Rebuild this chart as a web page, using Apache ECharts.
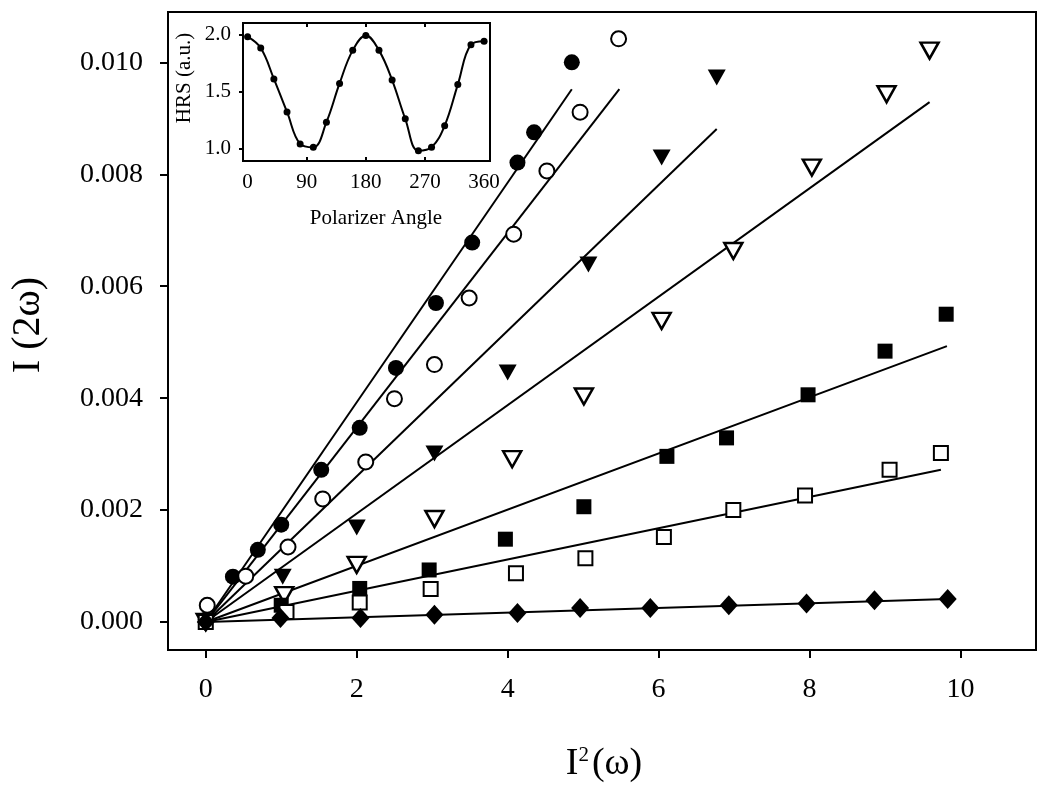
<!DOCTYPE html>
<html>
<head>
<meta charset="utf-8">
<script src="https://cdn.jsdelivr.net/npm/echarts@6/dist/echarts.min.js"></script>
<style>
html,body{margin:0;padding:0;background:#fff;}
#chart{width:1050px;height:792px;}
</style>
</head>
<body>
<div id="chart"></div>
<script>
// ---------- main plot data ----------
const filledCircleX = [0, 0.36, 0.69, 1.00, 1.53, 2.04, 2.52, 3.05, 3.53, 4.13, 4.35, 4.85];
const filledCircleY = [0.00004, 0.00081, 0.00129, 0.00174, 0.00272, 0.00347, 0.00454, 0.00570, 0.00678, 0.00821, 0.00875, 0.01000];

const openCircleX = [0.02, 0.53, 1.09, 1.55, 2.12, 2.50, 3.03, 3.49, 4.08, 4.52, 4.96, 5.47];
const openCircleY = [0.00030, 0.00082, 0.00134, 0.00220, 0.00286, 0.00399, 0.00460, 0.00579, 0.00693, 0.00806, 0.00911, 0.01042];

const filledTriX = [0, 1.02, 2.00, 3.03, 4.00, 5.07, 6.04, 6.77];
const filledTriY = [0, 0.00081, 0.00169, 0.00301, 0.00446, 0.00639, 0.00830, 0.00973];

const openTriX = [0, 1.04, 2.00, 3.03, 4.06, 5.01, 6.04, 6.99, 8.03, 9.02, 9.59];
const openTriY = [0, 0.00048, 0.00102, 0.00184, 0.00291, 0.00403, 0.00538, 0.00663, 0.00812, 0.00943, 0.01021];

const filledSqX = [0, 1.00, 2.04, 2.96, 3.97, 5.01, 6.11, 6.90, 7.98, 9.00, 9.81];
const filledSqY = [0, 0.00030, 0.00060, 0.00093, 0.00148, 0.00206, 0.00296, 0.00329, 0.00406, 0.00484, 0.00550];

const openSqX = [0, 1.07, 2.04, 2.98, 4.11, 5.03, 6.07, 6.99, 7.94, 9.06, 9.74];
const openSqY = [0, 0.00018, 0.00035, 0.00059, 0.00087, 0.00114, 0.00152, 0.00200, 0.00226, 0.00272, 0.00302];

const diamondX = [0, 0.99, 2.05, 3.03, 4.13, 4.96, 5.89, 6.93, 7.96, 8.86, 9.83];
const diamondY = [0, 0.00007, 0.00007, 0.00013, 0.00016, 0.00025, 0.00025, 0.00030, 0.00033, 0.00039, 0.00041];

// fitted straight lines: start (0,0) and end points
const fitEndX = [4.85, 5.48, 6.77, 9.59, 9.82, 9.74, 9.83];
const fitEndY = [0.00952, 0.00952, 0.00881, 0.00929, 0.00493, 0.00272, 0.00041];

// tick labels
const xTicks = [0, 2, 4, 6, 8, 10];
const yTicks = [0, 0.002, 0.004, 0.006, 0.008, 0.010];

// ---------- inset data ----------
const insetAngle = [0, 20, 40, 60, 80, 100, 120, 140, 160, 180, 200, 220, 240, 260, 280, 300, 320, 340, 360];
const insetHRS = [1.98, 1.88, 1.61, 1.32, 1.04, 1.01, 1.23, 1.57, 1.86, 1.99, 1.86, 1.60, 1.26, 0.98, 1.01, 1.20, 1.56, 1.91, 1.94];
const insetXTicks = [0, 90, 180, 270, 360];
const insetYTicks = [1.0, 1.5, 2.0];

const FONT = 'Liberation Serif';
const zip = (xs, ys) => xs.map((x, i) => [x, ys[i]]);

const chart = echarts.init(document.getElementById('chart'), null, {renderer: 'canvas'});

const fitSeries = fitEndX.map((x, i) => ({
  type: 'line', xAxisIndex: 0, yAxisIndex: 0,
  data: [[0, 0], [x, fitEndY[i]]],
  showSymbol: false, symbol: 'none', silent: true,
  lineStyle: {color: '#000', width: 2}, z: 2
}));

function scat(name, xs, ys, symbol, size, filled, rotate, bw) {
  return {
    name, type: 'scatter', xAxisIndex: 0, yAxisIndex: 0,
    data: zip(xs, ys), symbol, symbolSize: size, symbolRotate: rotate || 0,
    itemStyle: filled ? {color: '#000', opacity: 1}
                      : {color: '#fff', borderColor: '#000', borderWidth: bw || 2, opacity: 1},
    z: 5
  };
}

const option = {
  animation: false,
  backgroundColor: '#fff',
  grid: [
    {left: 168, top: 12, width: 868, height: 638, show: true, borderColor: '#000', borderWidth: 2, backgroundColor: '#fff'},
    {left: 243, top: 23, width: 247, height: 138, show: true, borderColor: '#000', borderWidth: 2, backgroundColor: '#fff', z: 10}
  ],
  xAxis: [
    {
      type: 'value', gridIndex: 0, min: -0.5, max: 11,
      axisLine: {show: true, onZero: false, lineStyle: {color: '#000', width: 2}},
      axisTick: {show: true, inside: false, length: 8, customValues: xTicks, lineStyle: {color: '#000', width: 2}},
      axisLabel: {customValues: xTicks, margin: 26, color: '#000', fontFamily: FONT, fontSize: 28},
      splitLine: {show: false}
    },
    {
      type: 'value', gridIndex: 1, min: -7, max: 369, z: 11,
      axisLine: {show: true, onZero: false, lineStyle: {color: '#000', width: 2}},
      axisTick: {show: true, inside: true, length: 4, customValues: [90, 180, 270], lineStyle: {color: '#000', width: 2}},
      axisLabel: {customValues: insetXTicks, margin: 11, color: '#000', fontFamily: FONT, fontSize: 21},
      splitLine: {show: false}
    },
    {
      type: 'value', gridIndex: 1, min: -7, max: 369, position: 'top', z: 11,
      axisLine: {show: false},
      axisTick: {show: true, inside: true, length: 4, customValues: [90, 180, 270], lineStyle: {color: '#000', width: 2}},
      axisLabel: {show: false},
      splitLine: {show: false}
    }
  ],
  yAxis: [
    {
      type: 'value', gridIndex: 0, min: -0.0005, max: 0.0109,
      axisLine: {show: true, onZero: false, lineStyle: {color: '#000', width: 2}},
      axisTick: {show: true, inside: false, length: 8, customValues: yTicks, lineStyle: {color: '#000', width: 2}},
      axisLabel: {customValues: yTicks, margin: 25, color: '#000', fontFamily: FONT, fontSize: 28,
                  formatter: v => v.toFixed(3)},
      splitLine: {show: false}
    },
    {
      type: 'value', gridIndex: 1, min: 0.89, max: 2.1, z: 11,
      axisLine: {show: true, onZero: false, lineStyle: {color: '#000', width: 2}},
      axisTick: {show: true, inside: false, length: 4, customValues: insetYTicks, lineStyle: {color: '#000', width: 2}},
      axisLabel: {customValues: insetYTicks, margin: 12, color: '#000', fontFamily: FONT, fontSize: 21,
                  formatter: v => v.toFixed(1)},
      splitLine: {show: false}
    }
  ],
  graphic: [
    {type: 'text', x: 28, y: 325, rotation: Math.PI / 2, z: 100,
     style: {text: 'I (2\u03C9)', font: '40px "Liberation Serif"', fill: '#000', textAlign: 'center', textVerticalAlign: 'middle'}},
    {type: 'text', x: 604, y: 764, z: 100,
     style: {text: '{a|I}{s|2}{a|(\u03C9)}', textAlign: 'center', textVerticalAlign: 'middle',
             rich: {a: {font: '38px "Liberation Serif"', fill: '#000', verticalAlign: 'bottom'},
                    s: {font: '21px "Liberation Serif"', fill: '#000', verticalAlign: 'top', padding: [0, 3, 15, 0]}}}},
    {type: 'text', x: 184, y: 78, rotation: Math.PI / 2, z: 100,
     style: {text: 'HRS (a.u.)', font: '21px "Liberation Serif"', fill: '#000', textAlign: 'center', textVerticalAlign: 'middle'}},
    {type: 'text', x: 376, y: 218, z: 100,
     style: {text: 'Polarizer Angle', font: '21px "Liberation Serif"', fill: '#000', textAlign: 'center', textVerticalAlign: 'middle'}}
  ],
  series: [
    ...fitSeries,
    scat('filled circle', filledCircleX, filledCircleY, 'circle', 16, true),
    scat('open circle', openCircleX, openCircleY, 'circle', 15, false),
    scat('filled triangle', filledTriX, filledTriY, 'triangle', [18, 16], true, 180),
    scat('open triangle', openTriX, openTriY, 'triangle', [18, 16], false, 180, 2.5),
    scat('filled square', filledSqX, filledSqY, 'rect', 15, true),
    scat('open square', openSqX, openSqY, 'rect', 14, false),
    {
      name: 'diamond', type: 'line', xAxisIndex: 0, yAxisIndex: 0,
      data: zip(diamondX, diamondY), symbol: 'diamond', symbolSize: [18, 20], showSymbol: true,
      lineStyle: {width: 0}, itemStyle: {color: '#000'}, z: 5
    },
    {
      name: 'inset', type: 'line', xAxisIndex: 1, yAxisIndex: 1,
      data: zip(insetAngle, insetHRS), smooth: 0.4, symbol: 'circle', symbolSize: 7, showSymbol: true,
      lineStyle: {color: '#000', width: 2}, itemStyle: {color: '#000'}, z: 12
    }
  ]
};
chart.setOption(option);
</script>
</body>
</html>
